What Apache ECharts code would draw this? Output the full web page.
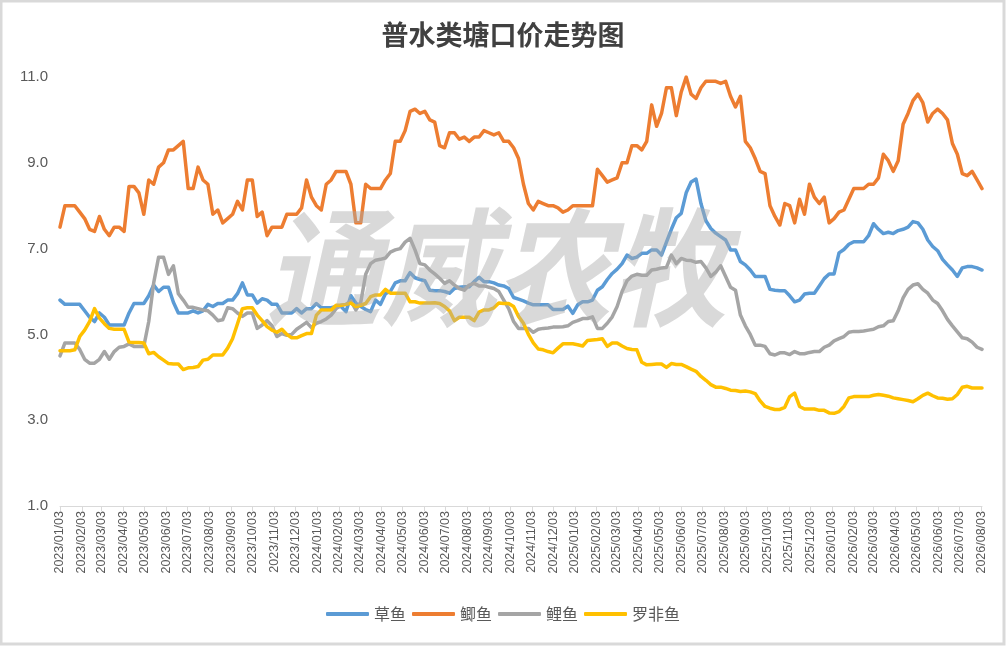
<!DOCTYPE html>
<html>
<head>
<meta charset="utf-8">
<title>普水类塘口价走势图</title>
<script src="https://cdn.jsdelivr.net/npm/echarts@6/dist/echarts.min.js"></script>
<style>
  html, body { margin: 0; padding: 0; background: #fff; }
  #chart { width: 1006px; height: 646px; }
</style>
</head>
<body>
<div id="chart"></div>
<script>
// weekly quotes, first week 2023/01/03, one row per month
const seriesNames = ['草鱼', '鲫鱼', '鲤鱼', '罗非鱼']
const seriesColors = ['#5B9BD5', '#ED7D31', '#A5A5A5', '#FFC000']

const grassCarp = [
  5.8, 5.7, 5.7, 5.7, 5.7,
  5.55, 5.4, 5.3, 5.5,
  5.4, 5.22, 5.22, 5.22,
  5.22, 5.5, 5.72, 5.72,
  5.72, 5.9, 6.15, 6.0, 6.1,
  6.1, 5.75, 5.5, 5.5,
  5.5, 5.55, 5.5, 5.55,
  5.7, 5.65, 5.72, 5.72, 5.8,
  5.8, 5.95, 6.2, 5.92,
  5.92, 5.73, 5.83, 5.8, 5.7,
  5.7, 5.5, 5.5, 5.5,
  5.6, 5.5, 5.6, 5.6,
  5.72, 5.62, 5.62, 5.62, 5.65,
  5.65, 5.53, 5.9, 5.73,
  5.65, 5.58, 5.53, 5.8,
  5.7, 5.95, 6.0, 6.2, 6.25,
  6.25, 6.44, 6.32, 6.28,
  6.25, 6.03, 6.02, 6.02,
  6.0, 5.96, 6.07, 6.1, 6.11,
  6.11, 6.23, 6.33, 6.23,
  6.23, 6.2, 6.15, 6.13,
  6.07, 5.86, 5.82, 5.78, 5.73,
  5.69, 5.69, 5.69, 5.69,
  5.58, 5.58, 5.58, 5.66, 5.49,
  5.69, 5.76, 5.76, 5.8,
  6.03, 6.11, 6.28, 6.42,
  6.52, 6.65, 6.85, 6.77,
  6.8, 6.89, 6.89, 6.97, 6.97,
  6.85, 7.15, 7.45, 7.72,
  7.82, 8.3, 8.55, 8.62,
  8.05, 7.65, 7.47, 7.36, 7.28,
  7.2, 6.97, 6.97, 6.7,
  6.62, 6.5, 6.35, 6.35, 6.35,
  6.05, 6.03, 6.02, 6.02,
  5.9, 5.76, 5.8, 5.94,
  5.96, 5.96, 6.13, 6.3, 6.41,
  6.41, 6.9, 6.98, 7.1,
  7.16, 7.16, 7.16, 7.3,
  7.58, 7.45, 7.35, 7.38, 7.35,
  7.42, 7.45, 7.5, 7.63,
  7.6, 7.45, 7.2, 7.05,
  6.95, 6.75, 6.62, 6.5, 6.35,
  6.55, 6.58, 6.58, 6.55,
  6.5
]

const crucian = [
  7.5, 8.0, 8.0, 8.0, 7.85,
  7.7, 7.45, 7.4, 7.75,
  7.45, 7.3, 7.5, 7.5,
  7.4, 8.45, 8.45, 8.3,
  7.8, 8.6, 8.5, 8.9, 9.0,
  9.3, 9.3, 9.4, 9.5,
  8.4, 8.4, 8.9, 8.6,
  8.5, 7.8, 7.9, 7.6, 7.7,
  7.8, 8.1, 7.9, 8.6,
  8.6, 7.75, 7.85, 7.3, 7.5,
  7.5, 7.5, 7.8, 7.8,
  7.8, 7.95, 8.6, 8.2,
  8.0, 7.9, 8.5, 8.6, 8.8,
  8.8, 8.8, 8.5, 7.6,
  7.6, 8.5, 8.4, 8.4,
  8.4, 8.6, 8.75, 9.5, 9.5,
  9.75, 10.2, 10.25, 10.15,
  10.2, 10.0, 9.95, 9.4,
  9.35, 9.7, 9.7, 9.55, 9.6,
  9.5, 9.6, 9.6, 9.75,
  9.7, 9.65, 9.7, 9.5,
  9.5, 9.35, 9.1, 8.5, 8.05,
  7.9, 8.1, 8.05, 8.0,
  8.0, 7.95, 7.85, 7.9, 8.0,
  8.0, 8.0, 8.0, 8.0,
  8.85, 8.7, 8.55, 8.6,
  8.65, 9.0, 9.0, 9.4,
  9.4, 9.3, 9.5, 10.35, 9.85,
  10.15, 10.75, 10.75, 10.1,
  10.65, 11.0, 10.6, 10.5,
  10.75, 10.9, 10.9, 10.9, 10.85,
  10.9, 10.55, 10.3, 10.55,
  9.5, 9.35, 9.1, 8.8, 8.75,
  8.0, 7.75, 7.55, 8.05,
  8.0, 7.6, 8.15, 7.8,
  8.5, 8.2, 8.05, 8.2, 7.6,
  7.7, 7.85, 7.9, 8.15,
  8.4, 8.4, 8.4, 8.5,
  8.5, 8.65, 9.2, 9.05, 8.8,
  9.05, 9.9, 10.15, 10.45,
  10.6, 10.4, 9.95, 10.15,
  10.25, 10.15, 10.0, 9.45, 9.2,
  8.75, 8.7, 8.8, 8.6,
  8.4
]

const commonCarp = [
  4.5, 4.8, 4.8, 4.8, 4.65,
  4.42, 4.33, 4.33, 4.42,
  4.6, 4.42, 4.6, 4.7,
  4.72, 4.78, 4.72, 4.72,
  4.72, 5.3, 6.2, 6.8, 6.8,
  6.4, 6.6, 5.95, 5.8,
  5.63, 5.63, 5.6, 5.57,
  5.55, 5.45, 5.32, 5.34, 5.62,
  5.6, 5.5, 5.42, 5.5,
  5.5, 5.14, 5.22, 5.32, 5.2,
  4.95, 5.02, 4.98, 5.0,
  5.12, 5.2, 5.28, 5.16,
  5.26, 5.3, 5.36, 5.45, 5.6,
  5.68, 5.7, 5.78, 5.57,
  5.75, 6.4, 6.65, 6.73,
  6.75, 6.78, 6.92, 6.97, 7.0,
  7.15, 7.24, 6.97, 6.65,
  6.62, 6.5, 6.41, 6.31,
  6.19, 6.25, 6.15, 6.07, 6.03,
  6.15, 6.19, 6.13, 6.13,
  6.1, 6.07, 6.0, 5.8,
  5.6, 5.3, 5.14, 5.14, 5.14,
  5.05, 5.12, 5.14, 5.15,
  5.17, 5.17, 5.18, 5.2, 5.28,
  5.32, 5.37, 5.37, 5.41,
  5.14, 5.14, 5.26, 5.41,
  5.65, 6.0, 6.25, 6.36,
  6.4, 6.38, 6.38, 6.5, 6.52,
  6.55, 6.56, 6.85, 6.65,
  6.77, 6.73, 6.72, 6.68,
  6.7, 6.55, 6.35, 6.45, 6.6,
  6.35, 6.1, 6.03, 5.45,
  5.2, 5.0, 4.75, 4.75, 4.72,
  4.55, 4.52, 4.57, 4.57,
  4.53, 4.6, 4.55, 4.55,
  4.58, 4.6, 4.6, 4.7, 4.75,
  4.85, 4.9, 4.95, 5.05,
  5.07, 5.07, 5.08, 5.1,
  5.12, 5.18, 5.2, 5.3, 5.32,
  5.55, 5.85, 6.05, 6.15,
  6.18, 6.05, 5.96, 5.8,
  5.72, 5.55, 5.35, 5.2, 5.06,
  4.92, 4.9, 4.82, 4.7,
  4.65
]

const tilapia = [
  4.62, 4.62, 4.62, 4.64, 4.95,
  5.1, 5.3, 5.6, 5.38,
  5.25, 5.14, 5.12, 5.12,
  5.12, 4.82, 4.81, 4.81,
  4.8, 4.55, 4.58, 4.48, 4.4,
  4.32, 4.31, 4.31, 4.18,
  4.22, 4.23, 4.25, 4.4,
  4.42, 4.52, 4.52, 4.52, 4.68,
  4.9, 5.25, 5.6, 5.62,
  5.62, 5.45, 5.32, 5.18, 5.1,
  5.05, 5.12, 5.0, 4.92,
  4.92, 4.97, 5.02, 5.02,
  5.45, 5.57, 5.57, 5.57, 5.68,
  5.68, 5.7, 5.73, 5.65,
  5.68, 5.72, 5.88, 5.92,
  5.92, 6.05, 5.96, 5.96, 5.96,
  5.96, 5.76, 5.76, 5.73,
  5.73, 5.73, 5.74, 5.72,
  5.65, 5.55, 5.32, 5.4, 5.4,
  5.4, 5.32, 5.52, 5.57,
  5.57, 5.62, 5.73, 5.72,
  5.72, 5.65, 5.42, 5.26, 5.0,
  4.8, 4.66, 4.64, 4.6,
  4.57, 4.68, 4.78, 4.78, 4.78,
  4.76, 4.73, 4.86, 4.87,
  4.88, 4.9, 4.72, 4.8,
  4.8, 4.73, 4.67, 4.65,
  4.64, 4.35, 4.29, 4.3, 4.31,
  4.31, 4.23, 4.32, 4.3,
  4.3, 4.25, 4.19, 4.14,
  4.02, 3.93, 3.83, 3.77, 3.77,
  3.74, 3.7, 3.69, 3.67,
  3.68, 3.66, 3.62, 3.45, 3.32,
  3.28, 3.25, 3.25, 3.3,
  3.55, 3.63, 3.32, 3.26,
  3.26, 3.26, 3.23, 3.23, 3.17,
  3.16, 3.2, 3.32, 3.52,
  3.55, 3.55, 3.55, 3.55,
  3.58, 3.6, 3.58, 3.56, 3.52,
  3.5, 3.48, 3.46, 3.43,
  3.5, 3.58, 3.63, 3.57,
  3.52, 3.51, 3.49, 3.5, 3.6,
  3.77, 3.79, 3.75, 3.75,
  3.75
]

const seriesValues = [grassCarp, crucian, commonCarp, tilapia]

// x ticks: the 3rd of every month, 2023/01 .. 2026/08
const tickMonths = []
for (let y = 2023; y <= 2026; y++) {
  for (let m = 0; m < 12; m++) {
    if (y === 2026 && m > 7) break
    tickMonths.push(new Date(y, m, 3).getTime())
  }
}

const weekDates = []
for (let i = 0; i < grassCarp.length; i++) {
  const d = new Date(2023, 0, 3)
  d.setDate(d.getDate() + i * 7)
  weekDates.push(d.getTime())
}

const pad = n => (n < 10 ? '0' + n : '' + n)
const fmtDate = v => {
  const d = new Date(v)
  return d.getFullYear() + '/' + pad(d.getMonth() + 1) + '/' + pad(d.getDate())
}

const myChart = echarts.init(document.getElementById('chart'))

const options = {
  backgroundColor: '#fff',
  color: seriesColors,
  animation: false,
  title: {
    text: '普水类塘口价走势图',
    left: 'center',
    top: 16,
    textStyle: {
      fontFamily: 'Noto Sans CJK SC',
      fontSize: 27,
      fontWeight: 'bold',
      color: '#404040'
    }
  },
  legend: {
    bottom: 19,
    left: 'center',
    icon: 'roundRect',
    itemWidth: 43,
    itemHeight: 4,
    itemGap: 6,
    textStyle: {
      fontFamily: 'Noto Sans CJK SC',
      fontSize: 16,
      color: '#595959'
    },
    data: seriesNames
  },
  grid: {
    left: 60,
    right: 24,
    top: 77,
    bottom: 140,
    containLabel: false
  },
  // dates as plain timestamps on a value axis, ticks on the 3rd of each month
  xAxis: {
    type: 'value',
    min: tickMonths[0],
    max: weekDates[weekDates.length - 1],
    axisLine: { lineStyle: { color: '#d9d9d9', width: 1 } },
    axisTick: {
      show: true,
      customValues: tickMonths,
      length: 5,
      lineStyle: { color: '#d9d9d9' }
    },
    axisLabel: {
      customValues: tickMonths,
      rotate: 90,
      margin: 5,
      fontFamily: 'Liberation Sans',
      fontSize: 12.5,
      color: '#595959',
      formatter: v => fmtDate(v)
    },
    splitLine: { show: false }
  },
  yAxis: {
    type: 'value',
    min: 1,
    max: 11,
    interval: 2,
    axisLine: { show: false },
    axisTick: { show: false },
    splitLine: { show: false },
    axisLabel: {
      margin: 12,
      fontFamily: 'Liberation Sans',
      fontSize: 15,
      color: '#595959',
      formatter: v => v.toFixed(1)
    }
  },
  graphic: [
    {
      type: 'rect',
      z: 100,
      silent: true,
      shape: { x: 1, y: 1, width: 1003, height: 643 },
      style: { fill: 'none', stroke: '#d9d9d9', lineWidth: 3 }
    },
    {
      type: 'text',
      z: 100,
      silent: true,
      x: 266,
      y: 203,
      scaleX: 0.9,
      style: {
        text: '通威农牧',
        font: 'italic bold 128px "Noto Sans CJK SC"',
        fill: 'rgba(170,170,170,0.45)'
      }
    }
  ],
  series: seriesNames.map((name, k) => ({
    name: name,
    type: 'line',
    showSymbol: false,
    symbol: 'none',
    data: seriesValues[k].map((v, i) => [weekDates[i], v]),
    lineStyle: { width: 3.5, color: seriesColors[k], join: 'round', cap: 'round' },
    itemStyle: { color: seriesColors[k] }
  }))
}

myChart.setOption(options)

window.addEventListener('resize', function () {
  myChart.resize()
})
</script>
</body>
</html>
